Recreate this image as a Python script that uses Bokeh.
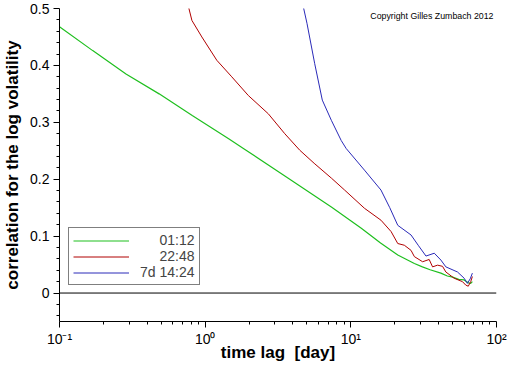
from bokeh.plotting import figure
from bokeh.models import FixedTicker, Span, Legend, LegendItem, Label, Range1d
from bokeh.embed import file_html
from bokeh.resources import INLINE

# ---------------- data ----------------
green_lag = [0.10, 0.169, 0.286, 0.483, 0.815, 1.45, 1.83, 3.61, 7.35, 11.8, 16.0, 21.0, 27.3, 31.0, 35.0, 41.5, 46.0, 50.0, 55.0, 59.9, 64.0, 66.5, 68.3]
green_val = [0.468, 0.426, 0.385, 0.350, 0.312, 0.271, 0.254, 0.204, 0.151, 0.114, 0.088, 0.067, 0.052, 0.046, 0.041, 0.035, 0.030, 0.028, 0.024, 0.023, 0.018, 0.017, 0.020]

red_lag = [0.770, 0.811, 0.949, 1.202, 1.522, 1.98, 2.713, 3.52, 4.46, 5.6, 7.35, 9.06, 12.4, 16.1, 18.9, 21.0, 23.3, 25.9, 27.3, 31.1, 34.5, 36.4, 39.4, 42.6, 44.9, 51.2, 58.4, 61.5, 64.0, 66.5, 68.3]
red_val = [0.502, 0.479, 0.450, 0.409, 0.380, 0.347, 0.315, 0.280, 0.251, 0.228, 0.202, 0.181, 0.149, 0.128, 0.108, 0.087, 0.084, 0.075, 0.064, 0.055, 0.059, 0.046, 0.049, 0.047, 0.037, 0.026, 0.020, 0.014, 0.012, 0.020, 0.029]

blue_lag = [4.70, 5.0, 5.65, 6.37, 7.35, 8.59, 9.29, 12.4, 16.1, 18.5, 21.0, 25.9, 29.0, 32.8, 37.4, 41.5, 44.9, 54.0, 60.0, 63.1, 66.0, 68.3]
blue_val = [0.505, 0.474, 0.403, 0.339, 0.3035, 0.268, 0.254, 0.216, 0.181, 0.150, 0.119, 0.102, 0.084, 0.065, 0.070, 0.058, 0.046, 0.037, 0.026, 0.017, 0.025, 0.035]

series_names = ["\u00a0\u00a0\u00a0\u00a0\u00a001:12", "\u00a0\u00a0\u00a0\u00a0\u00a022:48", "7d 14:24"]
series_colors = ["#1fbf1f", "#b00000", "#2a2ab8"]

x_major = [0.1, 1, 10, 100]
x_major_labels = ["10\u207b\u00b9", "10\u2070", "10\u00b9", "10\u00b2"]
x_minor = [0.2, 0.3, 0.4, 0.5, 0.6, 0.7, 0.8, 0.9, 2, 3, 4, 5, 6, 7, 8, 9, 20, 30, 40, 50, 60, 70, 80, 90]
y_major = [0, 0.1, 0.2, 0.3, 0.4, 0.5]
y_major_labels = ["0", "0.1", "0.2", "0.3", "0.4", "0.5"]
y_minor = [-0.04, -0.02, 0.02, 0.04, 0.06, 0.08, 0.12, 0.14, 0.16, 0.18, 0.22, 0.24, 0.26, 0.28,
           0.32, 0.34, 0.36, 0.38, 0.42, 0.44, 0.46, 0.48]

x_label = "time lag\u00a0 [day]"
y_label = "correlation for the log volatility"
copyright_text = "Copyright Gilles Zumbach 2012"

FONT = "Liberation Sans"

p = figure(width=512, height=366, x_axis_type="log",
           x_range=Range1d(0.1, 100), y_range=Range1d(-0.05, 0.5),
           output_backend="svg", toolbar_location=None,
           min_border_left=57, min_border_right=16, min_border_top=8, min_border_bottom=45)
p.title.visible = False
p.outline_line_color = None
p.background_fill_color = "white"
p.border_fill_color = "white"
p.grid.visible = False

# axes
xa = p.xaxis[0]
xa.ticker = FixedTicker(ticks=x_major, minor_ticks=x_minor)
xa.major_label_overrides = {t: l for t, l in zip(x_major, x_major_labels)}
ya = p.yaxis[0]
ya.ticker = FixedTicker(ticks=y_major, minor_ticks=y_minor)
ya.major_label_overrides = {t: l for t, l in zip(y_major, y_major_labels)}

for ax in (xa, ya):
    ax.axis_line_color = "black"
    ax.axis_line_width = 1
    ax.major_tick_line_color = "black"
    ax.minor_tick_line_color = "black"
    ax.major_tick_in = 0
    ax.major_tick_out = 6
    ax.minor_tick_in = 0
    ax.minor_tick_out = 3
    ax.major_label_text_font = FONT
    ax.major_label_text_font_size = "14px"
    ax.major_label_text_color = "black"
    ax.axis_label_text_font = FONT
    ax.axis_label_text_font_size = "17px"
    ax.axis_label_text_font_style = "bold"
    ax.axis_label_text_color = "black"

ya.major_label_standoff = 4
ya.axis_label_standoff = 5
xa.major_label_standoff = 3
xa.axis_label_standoff = -7

xa.axis_label = x_label
ya.axis_label = y_label

# zero line
p.add_layout(Span(location=0, dimension="width", line_color="black", line_width=1))

# curves
rg = p.line(green_lag, green_val, line_color=series_colors[0], line_width=1.2)
rr = p.line(red_lag, red_val, line_color=series_colors[1], line_width=1)
rb = p.line(blue_lag, blue_val, line_color=series_colors[2], line_width=1)

legend = Legend(items=[LegendItem(label=series_names[0], renderers=[rg]),
                       LegendItem(label=series_names[1], renderers=[rr]),
                       LegendItem(label=series_names[2], renderers=[rb])],
                location=(9, 36), margin=0, padding=4, spacing=0,
                glyph_width=56, glyph_height=15, label_height=15, label_standoff=11,
                label_text_font=FONT, label_text_font_size="14px",
                border_line_color="black", border_line_width=1,
                background_fill_color="white", background_fill_alpha=1.0)
p.add_layout(legend, "center")

p.add_layout(Label(x=13.6, y=0.487, text=copyright_text, text_font=FONT,
                   text_font_size="8.8px", text_baseline="middle", text_color="black"))

open("out.html", "w").write(file_html(p, INLINE))
